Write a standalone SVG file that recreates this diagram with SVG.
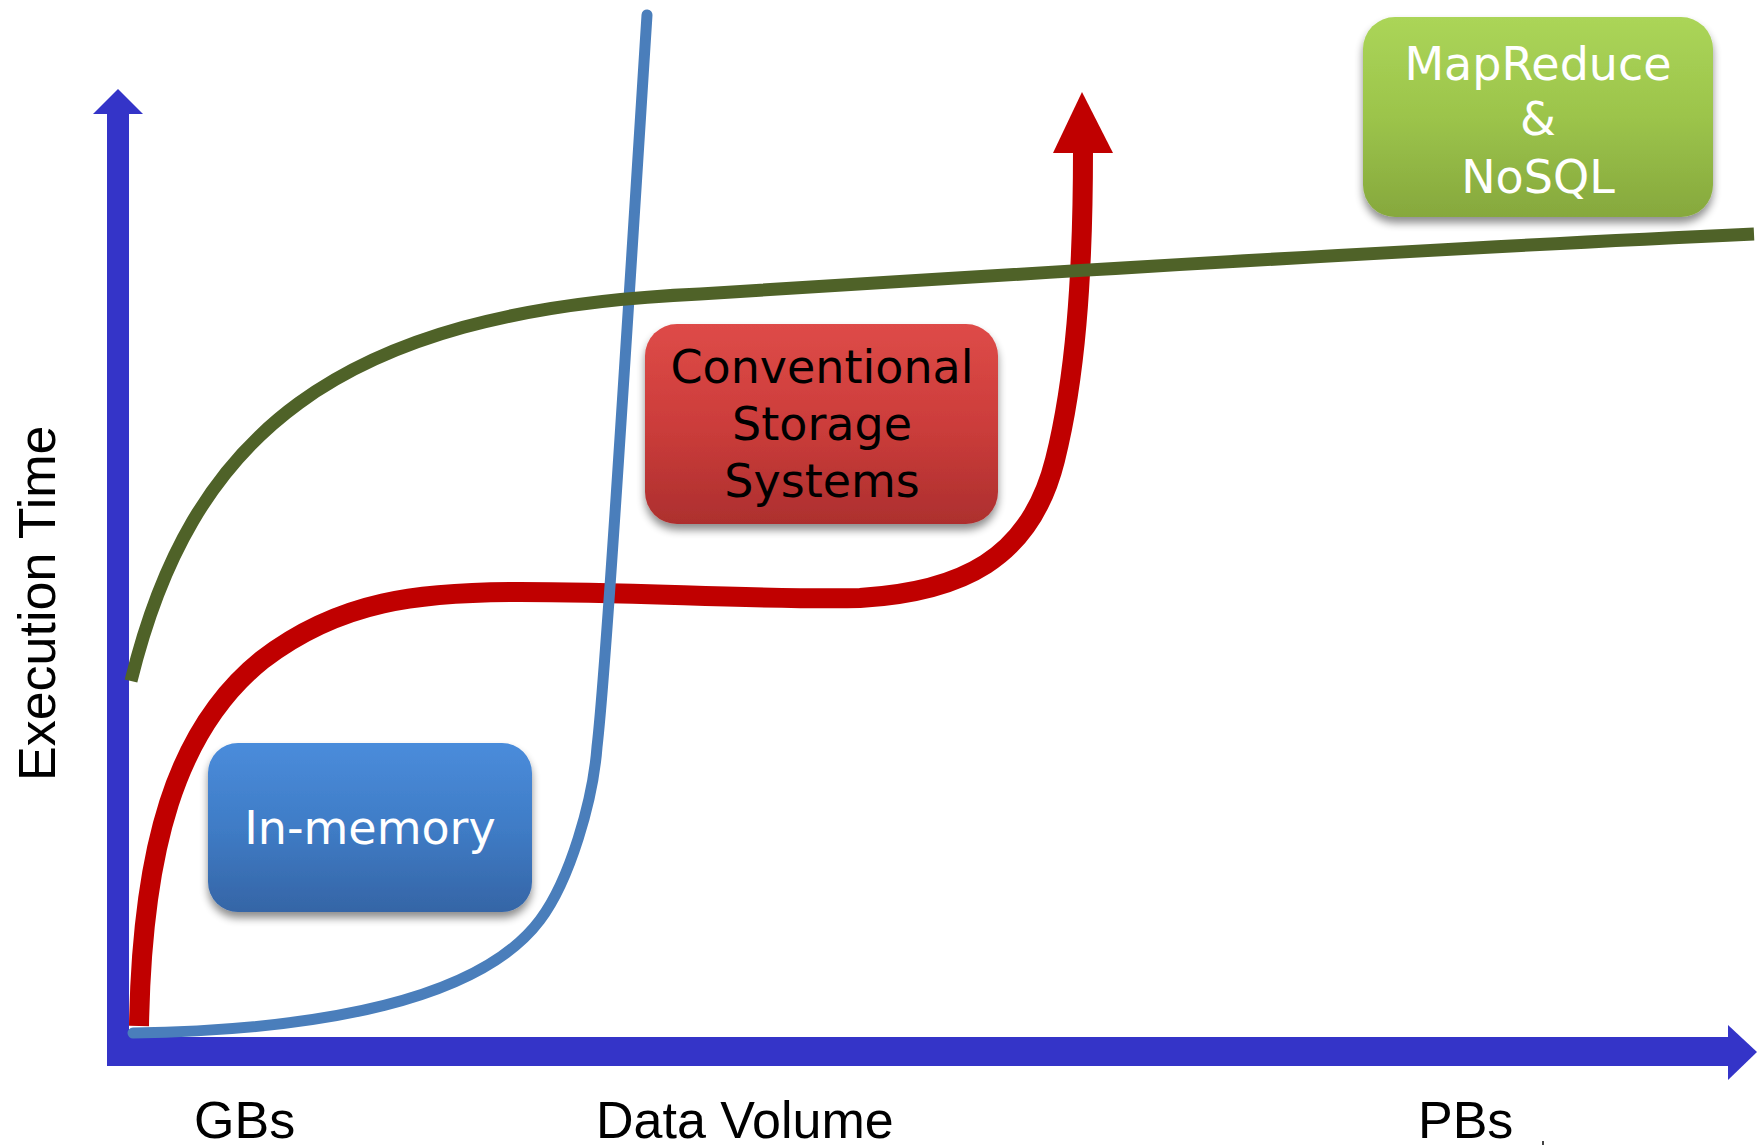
<svg xmlns="http://www.w3.org/2000/svg" width="1764" height="1145" viewBox="0 0 1764 1145">
  <style>
    .axis { fill: #3434c8; }
    .curve { fill: none; stroke-linejoin: round; }
    .axis-label { font-family: "Liberation Sans", Arial, sans-serif; font-size: 52px; fill: #000; }
    .box-label { font-family: "DejaVu Sans", Verdana, sans-serif; font-size: 46px; text-anchor: middle; }
  </style>
  <defs>
    <linearGradient id="gGreen" x1="0" y1="0" x2="0" y2="1">
      <stop offset="0" stop-color="#abd558"/>
      <stop offset="0.5" stop-color="#9cc44b"/>
      <stop offset="1" stop-color="#86a83d"/>
    </linearGradient>
    <linearGradient id="gRed" x1="0" y1="0" x2="0" y2="1">
      <stop offset="0" stop-color="#de4b48"/>
      <stop offset="0.5" stop-color="#cc3d3b"/>
      <stop offset="1" stop-color="#ad2f2e"/>
    </linearGradient>
    <linearGradient id="gBlue" x1="0" y1="0" x2="0" y2="1">
      <stop offset="0" stop-color="#4a8cdb"/>
      <stop offset="0.5" stop-color="#3f7cc6"/>
      <stop offset="1" stop-color="#3565a6"/>
    </linearGradient>
    <filter id="shadow" x="-10%" y="-10%" width="120%" height="130%">
      <feGaussianBlur in="SourceAlpha" stdDeviation="4"/>
      <feOffset dx="0" dy="6" result="b"/>
      <feComponentTransfer><feFuncA type="linear" slope="0.45"/></feComponentTransfer>
      <feMerge><feMergeNode/><feMergeNode in="SourceGraphic"/></feMerge>
    </filter>
  </defs>

  <rect width="1764" height="1145" fill="#fff"/>

  <!-- axes -->
  <g id="axes">
    <rect class="axis" x="107" y="112" width="22" height="954"/>
    <polygon class="axis" points="93,114 118,89 143,114"/>
    <rect class="axis" x="107" y="1037" width="1622" height="29"/>
    <polygon class="axis" points="1728,1025 1757,1052 1728,1080"/>
  </g>

  <!-- curves -->
  <g id="connectors">
    <g id="conventional-curve">
      <path class="curve" stroke="#c00000" stroke-width="20" d="M139,1026 C 142,850 175,730 262,660 C 340,600 420,592 520,592 C 640,592 760,600 860,598 C 960,592 1030,560 1055,460 C 1075,380 1083,280 1083,150"/>
      <polygon fill="#c00000" points="1053,153 1082,92 1113,153"/>
    </g>
    <path id="inmemory-curve" class="curve" stroke="#4a7ebb" stroke-width="11" stroke-linecap="round" d="M133,1033 C 320,1030 480,1000 540,920 C 570,880 593,800 597,747 C 606,670 627,330 647,15"/>
    <path id="mapreduce-curve" class="curve" stroke="#4f6228" stroke-width="13" d="M131,681 C 190,440 330,310 700,294 C 1000,275 1400,250 1754,234"/>
  </g>

  <!-- nodes -->
  <g id="mapreduce-nosql">
    <rect x="1363" y="17" width="350" height="200" rx="32" fill="url(#gGreen)" filter="url(#shadow)"/>
    <text class="box-label" fill="#fff" font-size="45"><tspan x="1538" y="80">MapReduce</tspan><tspan x="1538" y="135">&amp;</tspan><tspan x="1538" y="193">NoSQL</tspan></text>
  </g>

  <g id="conventional-storage">
    <rect x="645" y="324" width="353" height="200" rx="32" fill="url(#gRed)" filter="url(#shadow)"/>
    <text class="box-label" fill="#000"><tspan x="822" y="383">Conventional</tspan><tspan x="822" y="440">Storage</tspan><tspan x="822" y="497">Systems</tspan></text>
  </g>

  <g id="in-memory">
    <rect x="208" y="743" width="324" height="169" rx="30" fill="url(#gBlue)" filter="url(#shadow)"/>
    <text class="box-label" fill="#fff" x="370" y="844">In-memory</text>
  </g>

  <!-- axis labels -->
  <g id="labels">
    <text class="axis-label" transform="translate(55,781) rotate(-90)">Execution Time</text>
    <text class="axis-label" x="194" y="1138">GBs</text>
    <text class="axis-label" x="596" y="1138">Data Volume</text>
    <text class="axis-label" x="1418" y="1138">PBs</text>
    <rect x="1542" y="1141" width="2" height="4" fill="#444"/>
  </g>
</svg>
